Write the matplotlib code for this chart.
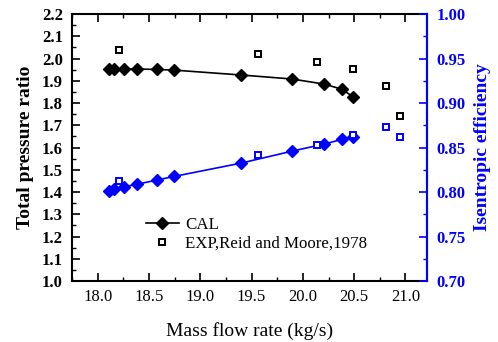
import matplotlib.pyplot as plt
import numpy as np

plt.rcParams['font.family'] = ['Liberation Serif', 'DejaVu Serif']

# CAL (calculated) results
cal_flow = [18.11, 18.16, 18.26, 18.38, 18.575, 18.745, 19.40, 19.895, 20.21, 20.38, 20.49]
cal_pr = [1.953, 1.953, 1.953, 1.953, 1.951, 1.948, 1.926, 1.908, 1.885, 1.862, 1.828]
cal_eff = [0.8015, 0.803, 0.806, 0.8087, 0.8135, 0.8176, 0.8326, 0.846, 0.854, 0.8592, 0.862]

# experimental data, Reid and Moore 1978
exp_flow = [18.21, 19.56, 20.14, 20.49, 20.81, 20.95]
exp_pr = [2.038, 2.019, 1.983, 1.953, 1.876, 1.742]
exp_eff = [0.8124, 0.8416, 0.8528, 0.864, 0.873, 0.862]

fig = plt.figure(figsize=(4.98, 3.42), dpi=100)
ax1 = fig.add_axes([0.1446, 0.178, 0.7129, 0.781])
ax2 = ax1.twinx()

l1, = ax1.plot(cal_flow, cal_pr, "k-", marker="D", markersize=6.5, lw=1.2, label="CAL")
s1, = ax1.plot(exp_flow, exp_pr, "s", mfc="white", mec="black", mew=1.4,
               markersize=4.5, label="EXP,Reid and Moore,1978")
ax2.plot(cal_flow, cal_eff, "-", color="blue", marker="D", markersize=6.5, lw=1.2)
ax2.plot(exp_flow, exp_eff, "s", mfc="white", mec="blue", mew=1.4, markersize=4.5)

ax1.set_xlim(17.75, 21.21)
ax1.set_ylim(1.0, 2.2)
ax2.set_ylim(0.70, 1.00)

ax1.set_xticks(np.arange(18.0, 21.01, 0.5))
ax1.set_xticks(np.arange(17.75, 21.21, 0.25), minor=True)
ax1.set_yticks(np.arange(1.0, 2.21, 0.1))
ax1.set_yticks(np.arange(1.0, 2.21, 0.05), minor=True)
ax2.set_yticks(np.arange(0.70, 1.001, 0.05))
ax2.set_yticks(np.arange(0.70, 1.001, 0.025), minor=True)

ax1.set_xticklabels(["%.1f" % v for v in np.arange(18.0, 21.01, 0.5)])
ax1.set_yticklabels(["%.1f" % v for v in np.arange(1.0, 2.21, 0.1)], fontweight="bold")
ax2.set_yticklabels(["%.2f" % v for v in np.arange(0.70, 1.001, 0.05)], fontweight="bold", color="blue")

ax1.tick_params(axis="x", which="both", direction="in", top=True, labelsize=12, pad=6)
ax1.tick_params(axis="x", which="major", length=6, width=1.2)
ax1.tick_params(axis="x", which="minor", length=3, width=1.0)
ax1.tick_params(axis="y", which="major", direction="in", length=6, width=1.2, labelsize=12, pad=6.5)
ax1.tick_params(axis="y", which="minor", direction="in", length=3, width=1.0)
ax2.tick_params(axis="y", which="major", direction="in", length=6, width=1.2, color="blue",
                labelsize=12, pad=7)
ax2.tick_params(axis="y", which="minor", direction="in", length=3, width=1.0, color="blue")

for sp in ax1.spines.values():
    sp.set_linewidth(1.5)
ax2.spines["right"].set_color("blue")
ax2.spines["right"].set_linewidth(1.5)
ax2.spines["left"].set_visible(False)
ax2.spines["top"].set_visible(False)
ax2.spines["bottom"].set_visible(False)

ax1.set_xlabel("Mass flow rate (kg/s)", fontsize=14, labelpad=12)
ax1.set_ylabel("Total pressure ratio", fontsize=14, fontweight="bold", labelpad=6)
ax2.set_ylabel("Isentropic efficiency", fontsize=14, fontweight="bold", color="blue", labelpad=6)

ax1.legend(handles=[l1, s1], loc="upper left", bbox_to_anchor=(0.207, 0.24),
           frameon=False, fontsize=12.2, handlelength=2.0, handletextpad=0.35,
           borderaxespad=0, borderpad=0, labelspacing=0.17)

fig.savefig("out.png", dpi=100)
